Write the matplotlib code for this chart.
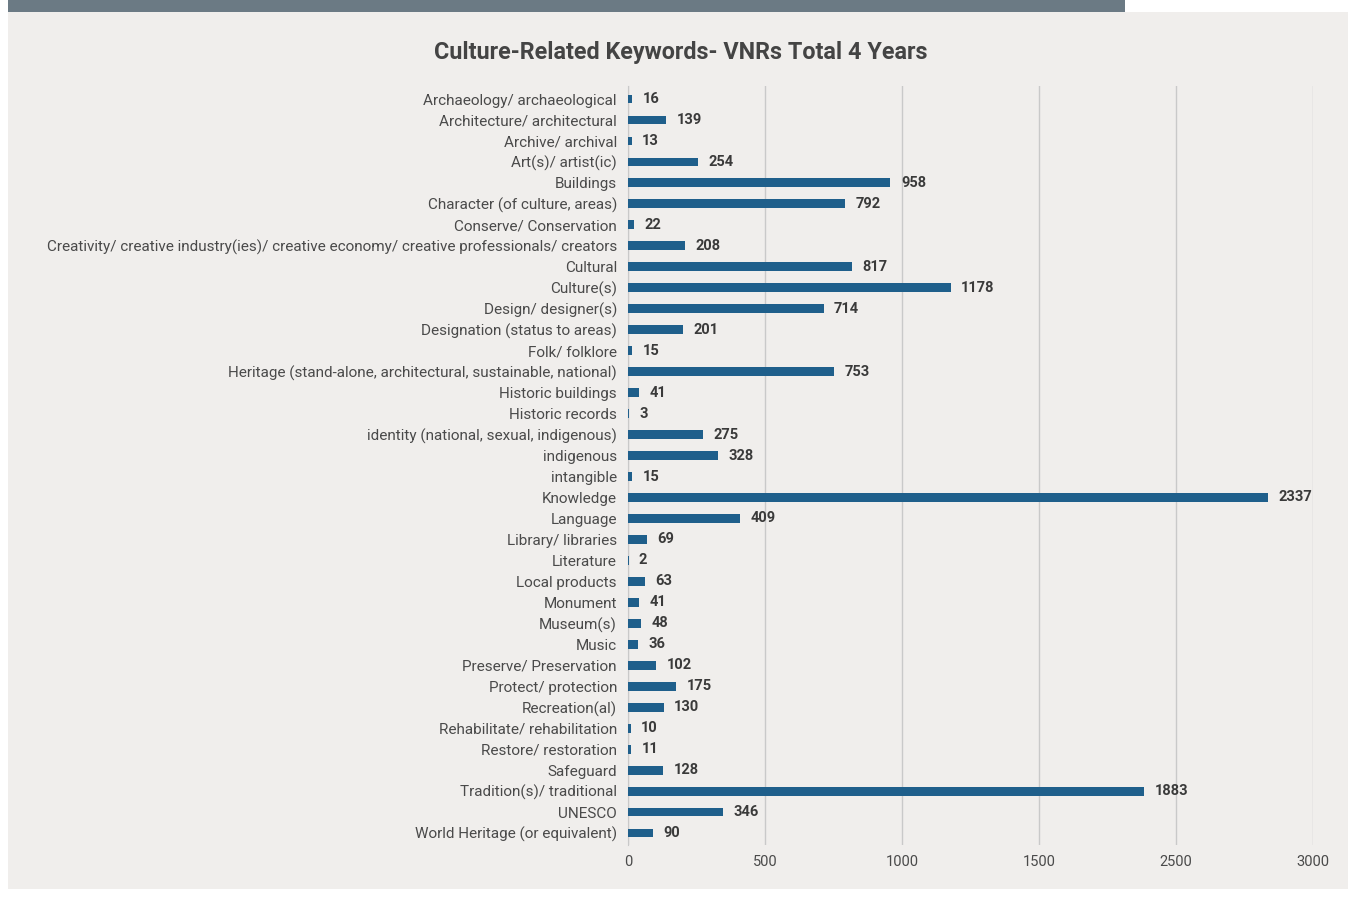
import matplotlib.pyplot as plt
from matplotlib.patches import Rectangle

plt.rcParams['font.family'] = ['Roboto', 'DejaVu Sans']

keywords = [
    "Archaeology/ archaeological", "Architecture/ architectural", "Archive/ archival",
    "Art(s)/ artist(ic)", "Buildings", "Character (of culture, areas)",
    "Conserve/ Conservation",
    "Creativity/ creative industry(ies)/ creative economy/ creative professionals/ creators",
    "Cultural", "Culture(s)", "Design/ designer(s)", "Designation (status to areas)",
    "Folk/ folklore", "Heritage (stand-alone, architectural, sustainable, national)",
    "Historic buildings", "Historic records", "identity (national, sexual, indigenous)",
    "indigenous", "intangible", "Knowledge", "Language", "Library/ libraries",
    "Literature", "Local products", "Monument", "Museum(s)", "Music",
    "Preserve/ Preservation", "Protect/ protection", "Recreation(al)",
    "Rehabilitate/ rehabilitation", "Restore/ restoration", "Safeguard",
    "Tradition(s)/ traditional", "UNESCO", "World Heritage (or equivalent)",
]
counts = [16, 139, 13, 254, 958, 792, 22, 208, 817, 1178, 714, 201, 15, 753, 41, 3,
          275, 328, 15, 2337, 409, 69, 2, 63, 41, 48, 36, 102, 175, 130, 10, 11, 128,
          1883, 346, 90]
tick_pos = [0, 500, 1000, 1500, 2000, 2500]
tick_labels = ["0", "500", "1000", "1500", "2500", "3000"]

fig = plt.figure(figsize=(13.48, 8.98), dpi=100, facecolor="white")
# page background and top band
fig.patches.append(Rectangle((8 / 1348, 0.01), 1 - 8 / 1348, 0.977, transform=fig.transFigure,
                             facecolor="#f0eeec", edgecolor="none", zorder=-10))
fig.patches.append(Rectangle((8 / 1348, 1 - 12 / 898), (1125 - 8) / 1348, 12 / 898,
                             transform=fig.transFigure, facecolor="#6b7a84",
                             edgecolor="none", zorder=-9))

ax = fig.add_axes([628 / 1348, 1 - 845 / 898, (1313 - 628) / 1348, (845 - 86) / 898])
ax.set_facecolor("none")

y = list(range(len(keywords)))
ax.barh(y, counts, height=0.42, color="#1f5f8b", zorder=3)
for yi, v in zip(y, counts):
    ax.text(v + 38, yi, str(v), va="center", ha="left", fontsize=10.5,
            fontweight="bold", color="#3a3a3a")

ax.set_xlim(0, 2500)
ax.set_ylim(len(keywords) - 0.43, -0.62)
ax.set_yticks(y)
ax.set_yticklabels(keywords, fontsize=11, color="#4a4a4a")
ax.set_xticks(tick_pos)
ax.set_xticklabels(tick_labels, fontsize=10.5, color="#4a4a4a")
ax.tick_params(axis="both", length=0)
ax.tick_params(axis="y", pad=8)
ax.tick_params(axis="x", pad=7)
ax.grid(axis="x", color="#c9c9c9", linewidth=1, zorder=0)
for s in ["top", "right", "bottom"]:
    ax.spines[s].set_visible(False)
ax.spines["left"].set_color("#c9c9c9")

fig.text(681 / 1348, 1 - 52 / 898, "Culture-Related Keywords- VNRs Total 4 Years",
         ha="center", va="center", fontsize=16.8, fontweight="bold", color="#444444")

fig.savefig("out.png", dpi=100, facecolor=fig.get_facecolor())
